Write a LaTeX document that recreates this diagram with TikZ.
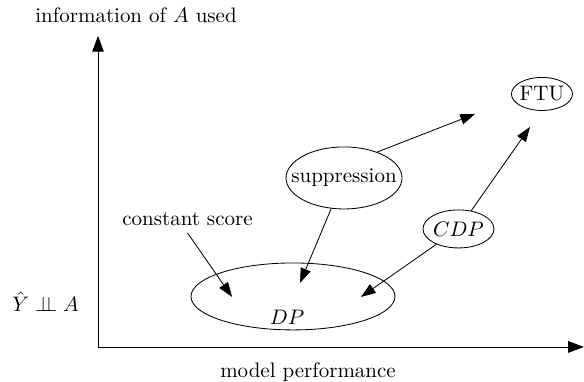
\documentclass[tikz,border=0pt]{standalone}
\usetikzlibrary{arrows.meta,shapes.geometric}
\newcommand{\nowidth}[1]{\makebox[0pt]{#1}}

\begin{document}
\begin{tikzpicture}[
    state/.style={ellipse,draw,inner sep=0pt},
    arr/.style={-{Triangle[length=7pt,width=5pt]}},
    axes/.style={{Triangle[length=7.5pt,width=5.5pt]}-{Triangle[length=7.5pt,width=5.5pt]}}]
  \useasboundingbox (-1.642,-0.586) rectangle (8.141,5.812);
  \draw
    (0,0) coordinate (o)
    (0,5.21) coordinate (ytop)
    (8.14,0) coordinate (xend)
    (0.637,5.561) node (ylab){information of $A$ used}
    (-0.879,0.754) node (indep){$\hat{Y} \perp\!\!\!\perp A$}
    (3.518,-0.419) node (xlab){model performance}
    (1.499,2.144) node (const){constant score}
    (3.266,0.846) node[state,minimum width=3.417cm,minimum height=1.122cm] (dp){}
    (3.166,0.503) node (dptext){$DP$}
    (4.121,2.831) node[state,minimum width=1.943cm,minimum height=1.039cm] (supp){\nowidth{suppression}}
    (7.437,4.238) node[state,minimum width=1.022cm,minimum height=0.553cm] (ftu){\nowidth{FTU}}
    (6.038,1.977) node[state,minimum width=1.189cm,minimum height=0.637cm] (cdp){\nowidth{$CDP$}}
    (2.245,0.838) coordinate (dpleft)
    (3.384,1.072) coordinate (dpmid)
    (4.405,0.838) coordinate (dpright)
    (6.315,3.903) coordinate (suppend)
    (7.236,3.685) coordinate (ftuend);
  \draw[axes] (ytop) -- (o) -- (xend);
  \begin{scope}[arr]
    \draw (const.south) to (dpleft);
    \draw (supp) to (dpmid);
    \draw (supp.38) to (suppend);
    \draw (cdp) to (dpright);
    \draw (cdp) to (ftuend);
  \end{scope}
\end{tikzpicture}
\end{document}
